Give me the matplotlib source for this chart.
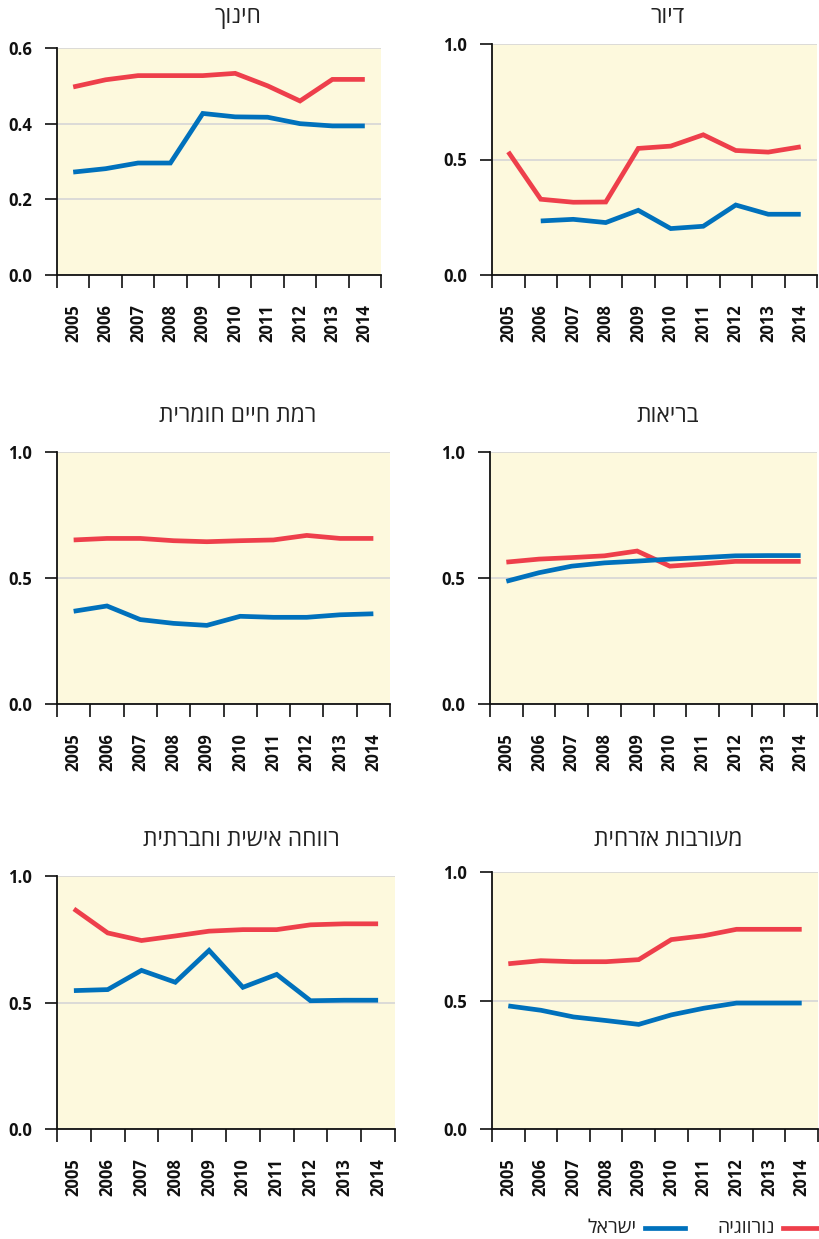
import matplotlib
matplotlib.use("Agg")
import matplotlib.pyplot as plt
from matplotlib.lines import Line2D
import numpy as np

plt.rcParams['font.family'] = ['Open Sans', 'DejaVu Sans']

years = ['2005', '2006', '2007', '2008', '2009', '2010', '2011', '2012', '2013', '2014']

titles = ['חינוך', 'דיור', 'רמת חיים חומרית', 'בריאות', 'רווחה אישית וחברתית', 'מעורבות אזרחית']
series_names = ['נורווגיה', 'ישראל']

edu_nor = [0.497, 0.516, 0.527, 0.527, 0.527, 0.533, 0.500, 0.460, 0.517, 0.517]
edu_isr = [0.272, 0.281, 0.296, 0.296, 0.427, 0.418, 0.417, 0.400, 0.394, 0.394]

hous_nor = [0.533, 0.328, 0.315, 0.316, 0.548, 0.558, 0.607, 0.539, 0.532, 0.555]
hous_isr = [np.nan, 0.234, 0.241, 0.227, 0.280, 0.201, 0.211, 0.303, 0.263, 0.263]

mat_nor = [0.651, 0.657, 0.657, 0.648, 0.644, 0.648, 0.651, 0.669, 0.657, 0.657]
mat_isr = [0.368, 0.389, 0.335, 0.320, 0.312, 0.348, 0.344, 0.344, 0.354, 0.358]

health_nor = [0.563, 0.575, 0.581, 0.588, 0.607, 0.547, 0.556, 0.566, 0.566, 0.566]
health_isr = [0.487, 0.521, 0.547, 0.560, 0.567, 0.575, 0.581, 0.588, 0.589, 0.589]

welf_nor = [0.870, 0.775, 0.745, 0.763, 0.782, 0.788, 0.788, 0.807, 0.811, 0.811]
welf_isr = [0.547, 0.551, 0.627, 0.580, 0.706, 0.560, 0.611, 0.507, 0.509, 0.509]

civ_nor = [0.643, 0.655, 0.651, 0.651, 0.659, 0.737, 0.752, 0.777, 0.777, 0.777]
civ_isr = [0.479, 0.462, 0.436, 0.422, 0.407, 0.444, 0.470, 0.490, 0.490, 0.490]

edu_yticks = [0.0, 0.2, 0.4, 0.6]
std_yticks = [0.0, 0.5, 1.0]

RED = '#EE3F4B'
BLUE = '#0071BC'
BG = '#FDF9DD'

W, H = 819, 1239
fig = plt.figure(figsize=(W / 100, H / 100), dpi=100)


def rtl(s):
    return s[::-1]


# panel boxes in pixel coords: (x0, x1, ytop, ybottom)
boxes = [
    (57, 381, 48, 275),
    (492, 817, 44, 275),
    (57, 390, 452, 704),
    (490, 817, 452, 704),
    (57, 395, 876, 1129),
    (492, 818, 872, 1129),
]
title_pos = [(238, 17), (668, 17), (238, 416), (668, 416), (241, 840), (668, 840)]

panel_data = [
    (edu_nor, edu_isr, edu_yticks),
    (hous_nor, hous_isr, std_yticks),
    (mat_nor, mat_isr, std_yticks),
    (health_nor, health_isr, std_yticks),
    (welf_nor, welf_isr, std_yticks),
    (civ_nor, civ_isr, std_yticks),
]

x = np.arange(len(years))
for i, ((x0, x1, yt, yb), (nor, isr, yticks)) in enumerate(zip(boxes, panel_data)):
    ax = fig.add_axes([x0 / W, 1 - yb / H, (x1 - x0) / W, (yb - yt) / H])
    ax.set_facecolor(BG)
    ax.plot(x, nor, color=RED, lw=3.4, solid_capstyle='butt', solid_joinstyle='miter', zorder=3)
    ax.plot(x, isr, color=BLUE, lw=3.4, solid_capstyle='butt', solid_joinstyle='miter', zorder=3)
    ax.set_xlim(-0.5, len(years) - 0.5)
    ax.set_ylim(yticks[0], yticks[-1])
    ax.set_yticks(yticks)
    ax.set_yticklabels([f'{v:.1f}' for v in yticks], fontsize=12, fontweight='bold', color='#111111')
    ax.grid(axis='y', color='#d6d6d6', lw=1.2, zorder=1)
    ax.set_axisbelow(True)
    ax.set_xticks(np.arange(-0.5, len(years), 1.0))
    ax.set_xticklabels([])
    ax.set_xticks(x, minor=True)
    ax.set_xticklabels(years, minor=True, rotation=90, fontsize=12, fontweight='bold', color='#111111')
    ax.tick_params(axis='x', which='major', length=9, width=1.3, color='#222222')
    ax.tick_params(axis='x', which='minor', length=0, pad=21)
    ax.tick_params(axis='y', length=9, width=1.3, color='#222222', pad=9)
    for s in ['top', 'right']:
        ax.spines[s].set_visible(False)
    for s in ['left', 'bottom']:
        ax.spines[s].set_color('#111111')
        ax.spines[s].set_linewidth(1.3)
    tx, ty = title_pos[i]
    fig.text(tx / W, 1 - ty / H, rtl(titles[i]), ha='center', va='center', fontsize=16.5, color='#222222')

# legend (drawn manually, right-to-left)
ly = 1 - 1228 / H
fig.add_artist(Line2D([783 / W, 818 / W], [ly, ly], transform=fig.transFigure, color=RED, lw=3.4))
fig.text(775 / W, ly, rtl(series_names[0]), ha='right', va='center', fontsize=14, color='#222222')
fig.add_artist(Line2D([645 / W, 685 / W], [ly, ly], transform=fig.transFigure, color=BLUE, lw=3.4))
fig.text(637 / W, ly, rtl(series_names[1]), ha='right', va='center', fontsize=14, color='#222222')

fig.savefig('out.png', dpi=100)
